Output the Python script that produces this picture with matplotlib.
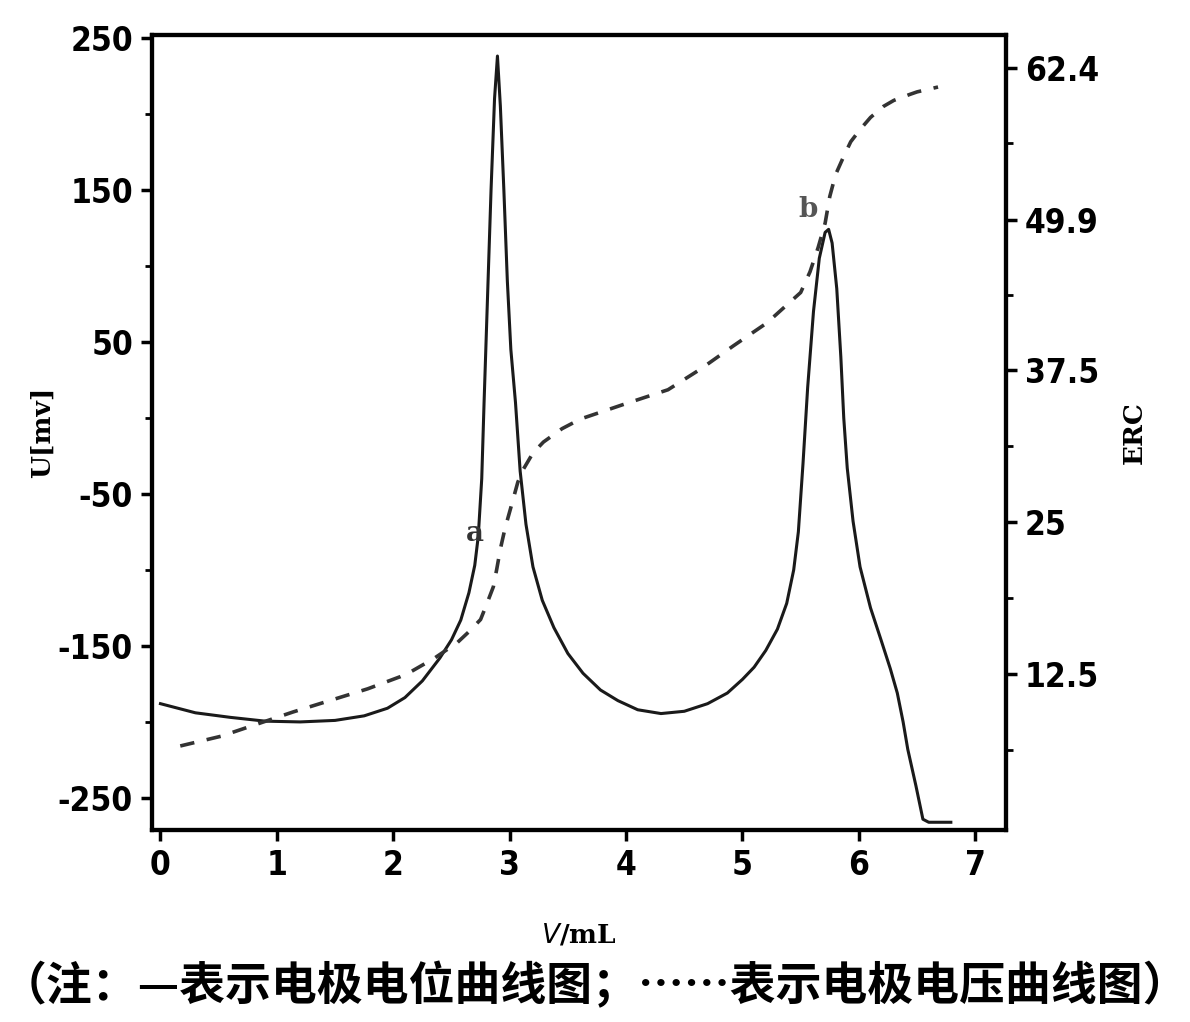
import matplotlib
import matplotlib.pyplot as plt
from matplotlib.ticker import MultipleLocator, FixedLocator

matplotlib.use("Agg")

# 电极电位曲线 (实线, 左轴 U/mV)
pot_v = [0.0, 0.3, 0.6, 0.9, 1.2, 1.5, 1.75, 1.95, 2.1, 2.25, 2.4, 2.5, 2.58, 2.65,
         2.7, 2.73, 2.76, 2.78, 2.81, 2.84, 2.87, 2.895, 2.92, 2.95, 2.98, 3.01, 3.05,
         3.09, 3.14, 3.2, 3.28, 3.38, 3.5, 3.63, 3.78, 3.93, 4.1, 4.3, 4.5, 4.7, 4.87,
         5.0, 5.1, 5.2, 5.3, 5.38, 5.44, 5.48, 5.52, 5.56, 5.61, 5.66, 5.71, 5.74, 5.77,
         5.81, 5.845, 5.87, 5.9, 5.95, 6.01, 6.1, 6.19, 6.27, 6.33, 6.38, 6.42, 6.49,
         6.55, 6.6, 6.79]
pot_u = [-188, -194, -197, -199.5, -200, -199, -196, -191, -184, -173, -158, -146, -133, -115,
         -97, -78, -40, 10, 80, 150, 210, 238, 205, 150, 90, 45, 10,
         -35, -70, -98, -120, -138, -155, -168, -179, -186, -192, -194.5, -193, -188, -181,
         -172, -164, -153, -139, -122, -100, -75, -30, 20, 70, 105, 122, 124, 115,
         85, 40, 0, -33, -68, -98, -125, -146, -165, -181, -200, -218, -242,
         -264, -266, -266]

# 电极电压曲线 (虚线, 右轴 ERC)
volt_v = [0.17, 0.52, 1.14, 1.78, 2.06, 2.15, 2.35, 2.55, 2.65, 2.75, 2.80, 2.86, 2.89,
          2.92, 2.96, 3.03, 3.07, 3.12, 3.2, 3.29, 3.45, 3.61, 3.98, 4.36, 4.64, 4.92,
          5.21, 5.5, 5.58, 5.65, 5.71, 5.75, 5.80, 5.87, 5.93, 6.01, 6.1, 6.21, 6.3,
          6.44, 6.5, 6.68]
volt_e = [6.6, 7.4, 9.4, 11.3, 12.3, 12.7, 13.8, 15.1, 16.0, 17.0, 18.2, 19.7, 21.2,
          22.8, 24.5, 26.9, 28.3, 29.4, 30.7, 31.6, 32.7, 33.5, 34.7, 35.9, 37.6, 39.5,
          41.4, 43.9, 45.6, 47.6, 49.6, 51.8, 53.6, 55.1, 56.3, 57.3, 58.3, 59.2, 59.7,
          60.2, 60.4, 60.8]

left_ticks = [250, 150, 50, -50, -150, -250]
right_ticks = [62.4, 49.9, 37.5, 25, 12.5]
x_ticks = [0, 1, 2, 3, 4, 5, 6, 7]

tick_font = dict(family="DejaVu Sans", stretch="condensed", weight="bold", size=24)

fig = plt.figure(figsize=(11.9, 10.22), dpi=100)
fig.patch.set_facecolor("white")
ax = fig.add_axes([0.128, 0.188, 0.717, 0.778])
ax2 = ax.twinx()

ax.plot(pot_v, pot_u, color="#1a1a1a", linewidth=2.2)
ax2.plot(volt_v, volt_e, color="#333333", linewidth=2.6, linestyle=(0, (4, 3.5)))

ax.set_xlim(-0.07, 7.26)
ax.set_ylim(-271, 252)
ax2.set_ylim(-0.3, 65.1)

# 坐标轴与刻度
ax.set_xticks(x_ticks)
ax.set_yticks(left_ticks)
ax.yaxis.set_minor_locator(MultipleLocator(50))
ax2.yaxis.set_major_locator(FixedLocator(right_ticks))
ax2.yaxis.set_minor_locator(FixedLocator([6.25, 18.75, 31.25, 43.7, 56.2]))

for a in (ax, ax2):
    for sp in a.spines.values():
        sp.set_linewidth(3)
        sp.set_color("black")
    a.tick_params(which="major", direction="out", length=8, width=2.5, pad=6)
    a.tick_params(which="minor", direction="out", length=5, width=2)

ax.set_xticklabels([str(t) for t in x_ticks], fontdict=tick_font)
ax.set_yticklabels([str(t) for t in left_ticks], fontdict=tick_font)
ax2.set_yticklabels([str(t) for t in right_ticks], fontdict=tick_font)

ax.set_ylabel("U[mv]", family="DejaVu Serif", weight="bold", size=19, labelpad=2)
ax2.set_ylabel("ERC", family="DejaVu Serif", weight="bold", size=19, rotation=90, labelpad=16)
ax.set_xlabel(r"$\mathit{V}$/mL", family="DejaVu Serif", weight="bold", size=19, labelpad=28)

# a, b 点标注
ax.text(2.70, -76, "a", fontsize=20, family="DejaVu Serif", weight="bold", color="#333333",
        ha="center", va="center")
ax.text(5.56, 137, "b", fontsize=20, family="DejaVu Serif", weight="bold", color="#555555",
        ha="center", va="center")

fig.text(0.5, 0.035, "（注：—表示电极电位曲线图；……表示电极电压曲线图）",
         family=["Noto Sans CJK SC", "DejaVu Sans"], weight="bold", size=33,
         ha="center", va="center")

fig.savefig("out.png", dpi=100, facecolor="white")
plt.close(fig)
